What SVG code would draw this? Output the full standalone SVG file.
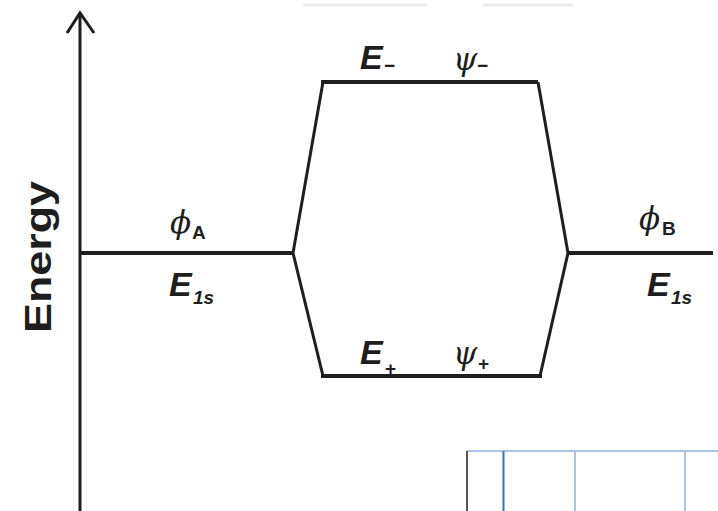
<svg xmlns="http://www.w3.org/2000/svg" width="718" height="511" viewBox="0 0 718 511">
<style>
.ln{fill:none;stroke:#1e1e1e;stroke-linecap:butt;stroke-linejoin:miter}
.lv{stroke-width:4}
.sl{stroke-width:3}
.E{font-family:"Liberation Sans",Arial,sans-serif;font-style:italic;font-weight:bold;font-size:34px;fill:#1e1e1e}
.sub{font-family:"Liberation Sans",Arial,sans-serif;font-size:19px;fill:#1e1e1e}
.gr{font-family:"DejaVu Serif","Liberation Serif",serif;font-style:italic;font-size:31px;fill:#1e1e1e}
</style>
<rect width="718" height="511" fill="#ffffff"/>
<g id="smudge" opacity="0.15">
<line x1="303" y1="5" x2="427" y2="5" stroke="#888" stroke-width="3"/>
<line x1="483" y1="5" x2="573" y2="5" stroke="#888" stroke-width="3"/>
</g>
<g id="axis">
<line class="ln sl" x1="80" y1="13" x2="80" y2="511"/>
<polyline class="ln sl" points="67,33 80,13 94,33"/>
<text x="51" y="257" transform="rotate(-90 51 257)" text-anchor="middle" font-family="Liberation Sans,Arial,sans-serif" font-size="36" font-weight="bold" fill="#1e1e1e" textLength="152" lengthAdjust="spacingAndGlyphs">Energy</text>
</g>
<g id="connectors">
<line class="ln sl" x1="293" y1="253" x2="323" y2="82"/>
<line class="ln sl" x1="293" y1="253" x2="323" y2="376"/>
<line class="ln sl" x1="538" y1="82" x2="568" y2="253"/>
<line class="ln sl" x1="540" y1="376" x2="568" y2="253"/>
</g>
<g id="level-A">
<line class="ln lv" x1="80" y1="253" x2="293" y2="253"/>
<text class="gr" x="170" y="233">ϕ</text><text class="sub" x="192" y="239" font-weight="bold">A</text>
<text class="E" x="169" y="296">E</text><text class="sub" x="193" y="304" font-style="italic" font-weight="bold">1s</text>
</g>
<g id="level-minus">
<line class="ln lv" x1="321" y1="82" x2="538" y2="82"/>
<text class="E" x="360" y="69">E</text><text class="sub" x="384" y="72" font-weight="bold">−</text>
<text class="gr" x="453" y="70">ψ</text><text class="sub" x="477" y="72" font-weight="bold">−</text>
</g>
<g id="level-plus">
<line class="ln lv" x1="321" y1="376" x2="542" y2="376"/>
<text class="E" x="360" y="364">E</text><text class="sub" x="385" y="375" font-weight="bold">+</text>
<text class="gr" x="453" y="364">ψ</text><text class="sub" x="478" y="370" font-weight="bold">+</text>
</g>
<g id="level-B">
<line class="ln lv" x1="568" y1="253" x2="713" y2="253"/>
<text class="gr" x="639" y="229">ϕ</text><text class="sub" x="662" y="235" font-weight="bold">B</text>
<text class="E" x="647" y="296">E</text><text class="sub" x="671" y="304" font-style="italic" font-weight="bold">1s</text>
</g>
<g id="grid">
<line x1="467" y1="451" x2="718" y2="451" stroke="#a8c2ea" stroke-width="2"/>
<line x1="467" y1="451" x2="467" y2="511" stroke="#555" stroke-width="2"/>
<line x1="503.5" y1="451" x2="503.5" y2="511" stroke="#2a78c0" stroke-width="2"/>
<line x1="575" y1="451" x2="575" y2="511" stroke="#a8c2ea" stroke-width="2"/>
<line x1="685" y1="451" x2="685" y2="511" stroke="#a8c2ea" stroke-width="2"/>
</g>
</svg>
